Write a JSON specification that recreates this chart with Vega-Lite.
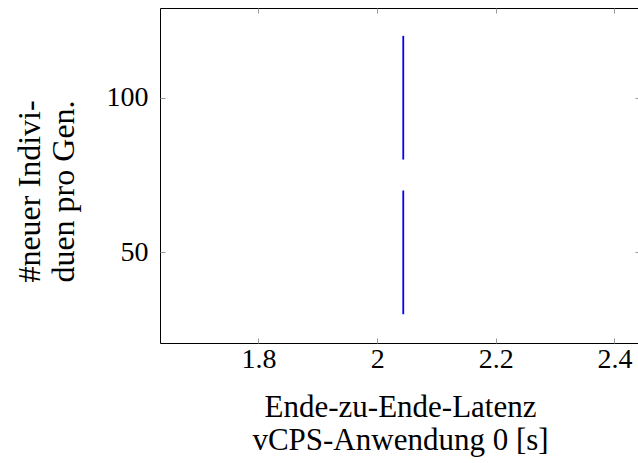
{
  "$schema": "https://vega.github.io/schema/vega-lite/v6.json",
  "autosize": {"type": "none"},
  "padding": {"left": 160, "top": 8, "right": 0, "bottom": 120},
  "width": 480,
  "height": 335,
  "background": "white",
  "config": {
    "view": {"stroke": "black", "strokeWidth": 1},
    "font": "Liberation Serif",
    "axis": {
      "domain": false,
      "grid": false,
      "tickSize": -5,
      "tickColor": "#999999",
      "tickWidth": 1,
      "labelFont": "Liberation Serif",
      "labelFontSize": 28,
      "labelColor": "black",
      "titleFont": "Liberation Serif",
      "titleFontSize": 31,
      "titleFontWeight": "normal",
      "titleColor": "black",
      "titleLimit": 1000
    }
  },
  "data": {
    "values": [
      {"x": 2.044, "y": 30, "seg": "a"},
      {"x": 2.044, "y": 40, "seg": "a"},
      {"x": 2.044, "y": 50, "seg": "a"},
      {"x": 2.044, "y": 60, "seg": "a"},
      {"x": 2.044, "y": 70, "seg": "a"},
      {"x": 2.044, "y": 80, "seg": "b"},
      {"x": 2.044, "y": 90, "seg": "b"},
      {"x": 2.044, "y": 100, "seg": "b"},
      {"x": 2.044, "y": 110, "seg": "b"},
      {"x": 2.044, "y": 120, "seg": "b"}
    ]
  },
  "layer": [
    {
      "mark": {"type": "line", "color": "#0000ff", "strokeWidth": 1.8, "clip": true},
      "encoding": {
        "x": {
          "field": "x", "type": "quantitative",
          "scale": {"domain": [1.634, 2.443], "nice": false, "zero": false},
          "axis": {
            "orient": "bottom",
            "values": [1.8, 2, 2.2, 2.4],
            "format": "~g",
            "labelPadding": 7,
            "title": ["Ende-zu-Ende-Latenz", "vCPS-Anwendung 0 [s]"],
            "titleFontSize": 31,
            "titleLineHeight": 33,
            "titleX": 240,
            "titleY": 73,
            "titleBaseline": "alphabetic",
            "titleAlign": "center"
          }
        },
        "y": {
          "field": "y", "type": "quantitative",
          "scale": {"domain": [20.7, 129], "nice": false, "zero": false},
          "axis": {
            "orient": "left",
            "values": [50, 100],
            "labelPadding": 17,
            "title": ["#neuer Indivi-", "duen pro Gen."],
            "titleFontSize": 32,
            "titleLineHeight": 34,
            "titleX": -121,
            "titleY": 183,
            "titleAngle": -90,
            "titleBaseline": "alphabetic",
            "titleAlign": "center"
          }
        },
        "detail": {"field": "seg"}
      }
    },
    {
      "mark": {"type": "line", "opacity": 0},
      "encoding": {
        "x": {
          "field": "x", "type": "quantitative",
          "axis": {"orient": "top", "values": [1.8, 2, 2.2, 2.4], "labels": false, "title": null}
        },
        "y": {
          "field": "y", "type": "quantitative",
          "axis": {"orient": "right", "values": [50, 100], "labels": false, "title": null}
        },
        "detail": {"field": "seg"}
      }
    }
  ],
  "resolve": {"axis": {"x": "independent", "y": "independent"}}
}
